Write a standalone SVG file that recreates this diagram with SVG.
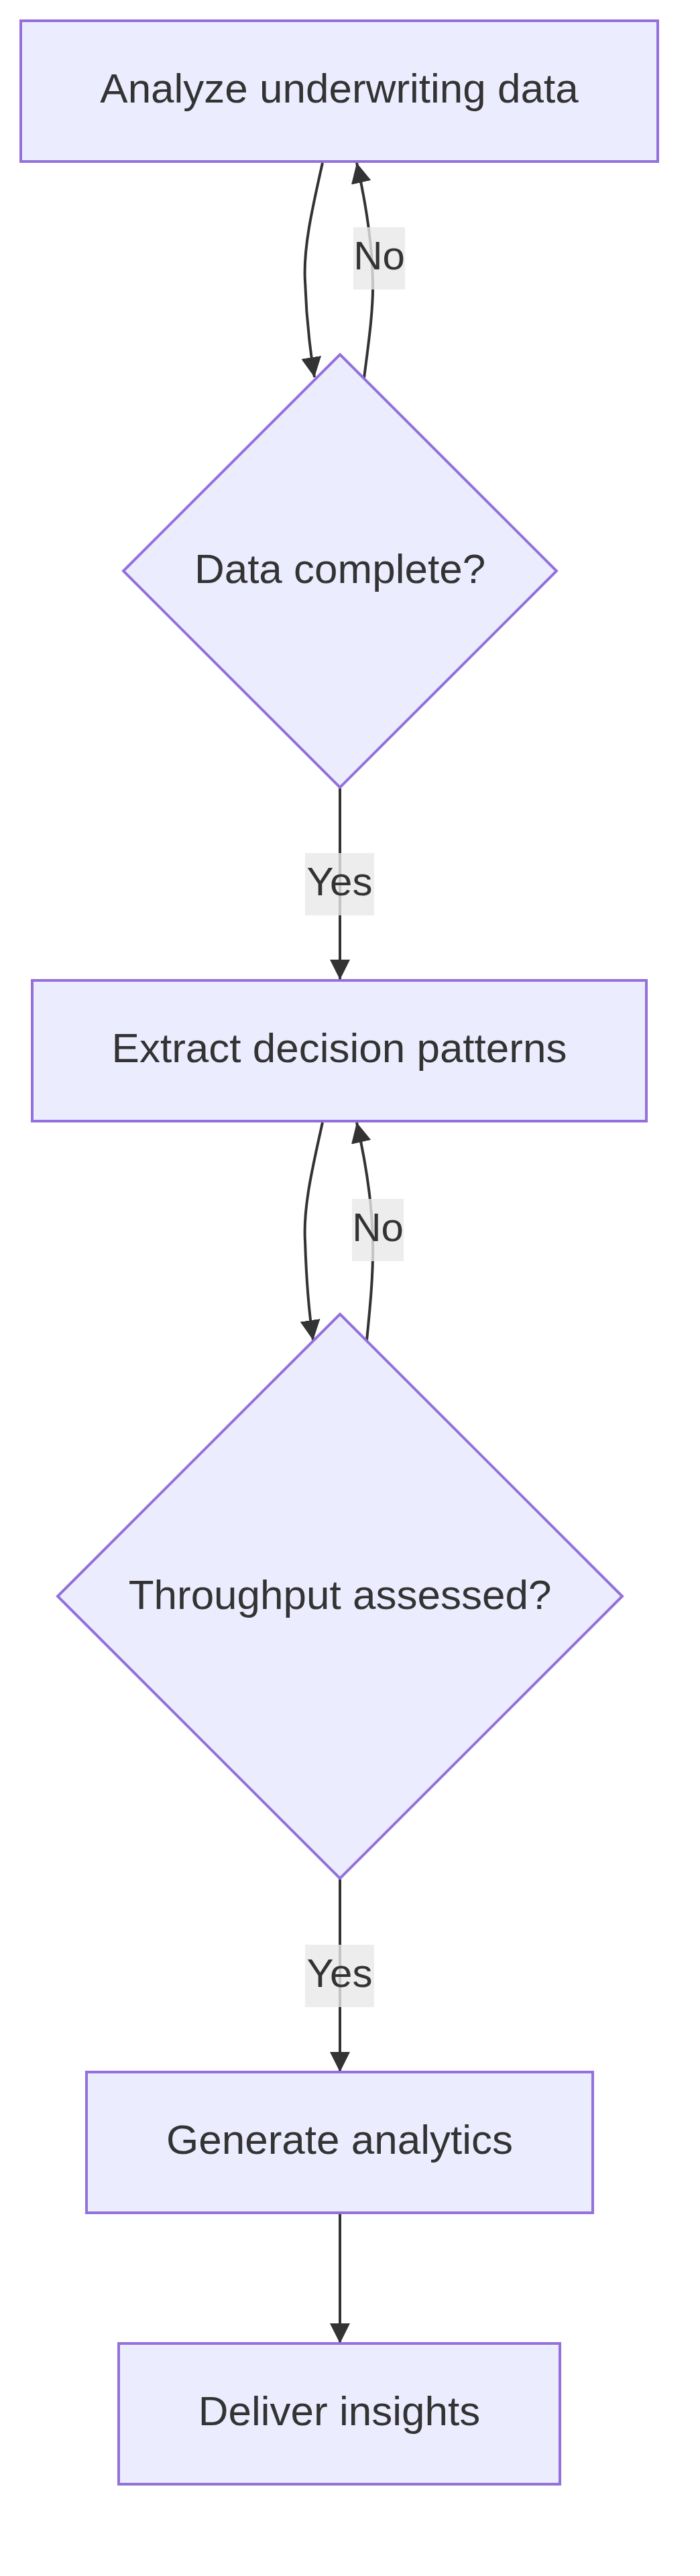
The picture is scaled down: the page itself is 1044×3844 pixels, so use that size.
<svg xmlns="http://www.w3.org/2000/svg" width="1044" height="3844" viewBox="0 0 1044 3844">
  <style>
    .node rect, .node polygon { fill: #ECECFF; stroke: #9370DB; stroke-width: 4; }
    .node text { font-family: "Liberation Sans", Arial, sans-serif; font-size: 62px; fill: #333333; text-anchor: middle; }
    .edge { fill: none; stroke: #333333; stroke-width: 4; }
    .lbl rect { fill: rgba(232,232,232,0.8); stroke: none; }
    .lbl text { font-family: "Liberation Sans", Arial, sans-serif; font-size: 60px; fill: #333333; text-anchor: middle; }
  </style>
  <defs>
    <marker id="arrow" viewBox="0 0 10 10" refX="10" refY="5" markerUnits="userSpaceOnUse" markerWidth="30" markerHeight="32" orient="auto">
      <path d="M 0 0 L 10 5 L 0 10 z" fill="#333333"/>
    </marker>
  </defs>
  <rect x="0" y="0" width="1044" height="3844" fill="#ffffff"/>

  <g id="connectors">
    <path class="edge" d="M 481 243 C 466 310, 452 370, 455 420 C 457 480, 462 520, 469 563" marker-end="url(#arrow)"/>
    <path class="edge" d="M 543 564 C 550 510, 557 460, 556 420 C 555 360, 545 300, 532 243" marker-end="url(#arrow)"/>
    <path class="edge" d="M 507 1175 L 507 1462" marker-end="url(#arrow)"/>
    <path class="edge" d="M 481 1675 C 466 1742, 452 1802, 455 1852 C 457 1915, 461 1960, 467 2000" marker-end="url(#arrow)"/>
    <path class="edge" d="M 547 2000 C 552 1950, 557 1900, 556 1852 C 555 1792, 545 1732, 532 1675" marker-end="url(#arrow)"/>
    <path class="edge" d="M 507 2802 L 507 3092" marker-end="url(#arrow)"/>
    <path class="edge" d="M 507 3302 L 507 3497" marker-end="url(#arrow)"/>

    <g class="lbl" id="label-no-1">
      <rect x="527" y="339" width="77" height="93"/>
      <text x="565.5" y="402">No</text>
    </g>
    <g class="lbl" id="label-yes-1">
      <rect x="455" y="1273" width="103" height="93"/>
      <text x="506.5" y="1336">Yes</text>
    </g>
    <g class="lbl" id="label-no-2">
      <rect x="525" y="1789" width="77" height="93"/>
      <text x="563.5" y="1852">No</text>
    </g>
    <g class="lbl" id="label-yes-2">
      <rect x="455" y="2902" width="103" height="93"/>
      <text x="506.5" y="2965">Yes</text>
    </g>
  </g>

  <g id="node-analyze" class="node">
    <rect x="31" y="31" width="950" height="210"/>
    <text x="506" y="153">Analyze underwriting data</text>
  </g>
  <g id="node-data-complete" class="node">
    <polygon points="507,529 830,852 507,1175 184,852"/>
    <text x="507" y="870">Data complete?</text>
  </g>
  <g id="node-extract" class="node">
    <rect x="48" y="1463" width="916" height="210"/>
    <text x="506" y="1585">Extract decision patterns</text>
  </g>
  <g id="node-throughput" class="node">
    <polygon points="507,1961 928,2382 507,2803 86,2382"/>
    <text x="507" y="2401">Throughput assessed?</text>
  </g>
  <g id="node-generate" class="node">
    <rect x="129" y="3092" width="755" height="210"/>
    <text x="506.5" y="3214">Generate analytics</text>
  </g>
  <g id="node-deliver" class="node">
    <rect x="177" y="3497" width="658" height="210"/>
    <text x="506" y="3619">Deliver insights</text>
  </g>
</svg>
